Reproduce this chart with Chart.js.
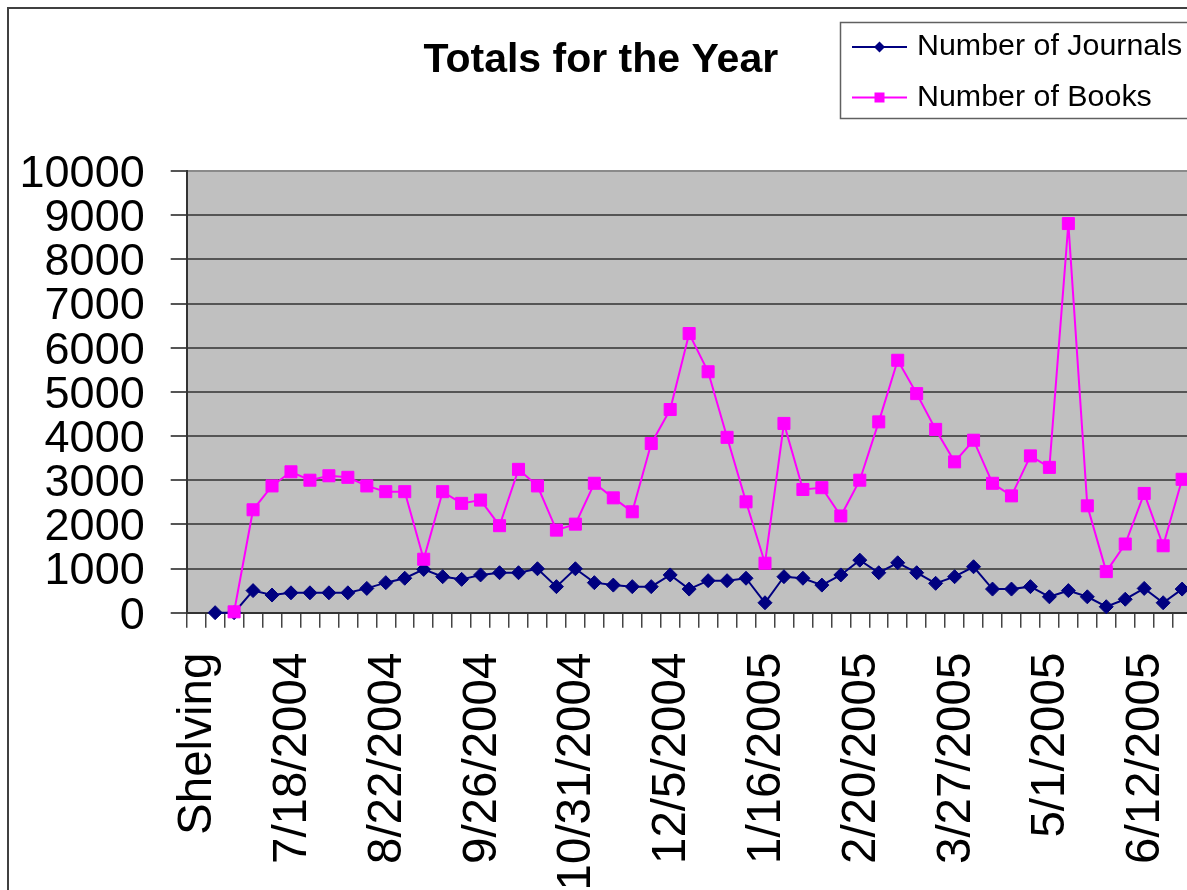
<!DOCTYPE html>
<html><head><meta charset="utf-8">
<script src="https://cdn.jsdelivr.net/npm/chart.js@4.4.1/dist/chart.umd.min.js"></script>
<style>
html,body{margin:0;padding:0;overflow:hidden;background:#fff;width:1187px;height:890px;}
#wrap{position:absolute;left:0;top:0;width:1202px;height:900px;}
canvas{display:block;}
</style></head><body>
<div id="wrap"><canvas id="c" width="1202" height="900"></canvas></div>
<script>
const chartTitle = 'Totals for the Year';
const seriesNames = ['Number of Journals', 'Number of Books'];
const categories = ['Shelving','6/20/2004','6/27/2004','7/4/2004','7/11/2004','7/18/2004','7/25/2004','8/1/2004','8/8/2004','8/15/2004',
  '8/22/2004','8/29/2004','9/5/2004','9/12/2004','9/19/2004','9/26/2004','10/3/2004','10/10/2004','10/17/2004','10/24/2004',
  '10/31/2004','11/7/2004','11/14/2004','11/21/2004','11/28/2004','12/5/2004','12/12/2004','12/19/2004','1/2/2005','1/9/2005',
  '1/16/2005','1/23/2005','1/30/2005','2/6/2005','2/13/2005','2/20/2005','2/27/2005','3/6/2005','3/13/2005','3/20/2005',
  '3/27/2005','4/3/2005','4/10/2005','4/17/2005','4/24/2005','5/1/2005','5/8/2005','5/15/2005','5/22/2005','6/5/2005',
  '6/12/2005','6/19/2005','6/26/2005'];
const journals = [null,0,0,500,400,450,450,450,450,550,
  680,780,980,815,755,855,905,905,995,590,
  995,680,625,590,590,855,535,725,725,780,
  225,815,780,625,855,1190,905,1130,905,665,
  815,1040,535,535,590,360,500,360,135,305,
  550,225,535];
const books = [null,null,20,2330,2870,3190,3000,3100,3065,2870,
  2740,2740,1210,2740,2475,2550,1970,3245,2870,1870,
  2005,2930,2600,2285,3830,4600,6320,5455,3970,2510,
  1120,4285,2790,2830,2190,3000,4320,5715,4960,4150,
  3415,3905,2930,2645,3550,3290,8810,2420,930,1555,
  2700,1515,3020];
const yMin = 0, yMax = 10000, yStep = 1000;
const labelEvery = 5;

const FONT = '"Liberation Sans", Arial, sans-serif';
const navy = '#000080', magenta = '#FF00FF';

const framePlugin = {
  id: 'frame',
  beforeDraw(chart) {
    const {ctx, chartArea: a, width, height} = chart;
    ctx.save();
    ctx.fillStyle = '#ffffff';
    ctx.fillRect(0, 0, width, height);
    ctx.fillStyle = '#c0c0c0';
    ctx.fillRect(a.left, a.top, a.right - a.left, a.bottom - a.top);
    ctx.strokeStyle = '#404040';
    ctx.lineWidth = 2;
    ctx.strokeRect(8, 8, 1186, 1000);
    ctx.restore();
  },
  afterDraw(chart) {
    const ctx = chart.ctx;
    ctx.save();
    ctx.strokeStyle = '#606060';
    ctx.lineWidth = 1.5;
    ctx.strokeRect(840.5, 22.5, 360, 96);
    const rows = [
      {name: seriesNames[0], color: navy, y: 47, style: 'diamond'},
      {name: seriesNames[1], color: magenta, y: 97.5, style: 'square'}
    ];
    rows.forEach(r => {
      ctx.strokeStyle = r.color;
      ctx.fillStyle = r.color;
      ctx.lineWidth = 2;
      ctx.beginPath();
      ctx.moveTo(852, r.y);
      ctx.lineTo(907, r.y);
      ctx.stroke();
      const cx = 879.5;
      ctx.beginPath();
      if (r.style === 'diamond') {
        ctx.moveTo(cx, r.y - 5.5); ctx.lineTo(cx + 5.5, r.y); ctx.lineTo(cx, r.y + 5.5); ctx.lineTo(cx - 5.5, r.y);
        ctx.closePath();
      } else {
        ctx.rect(cx - 5, r.y - 5, 10, 10);
      }
      ctx.fill();
      ctx.fillStyle = '#000';
      ctx.font = '30.4px ' + FONT;
      ctx.textBaseline = 'middle';
      ctx.textAlign = 'left';
      ctx.fillText(r.name, 917, r.y);
    });
    ctx.restore();
  }
};

new Chart(document.getElementById('c'), {
  type: 'line',
  data: {
    labels: categories,
    datasets: [
      {label: seriesNames[0], data: journals, borderColor: navy, backgroundColor: navy,
       borderWidth: 2, pointStyle: 'rectRot', pointRadius: 7, pointBorderWidth: 1,
       pointBackgroundColor: navy, pointBorderColor: navy, tension: 0, clip: false, order: 1},
      {label: seriesNames[1], data: books, borderColor: magenta, backgroundColor: magenta,
       borderWidth: 2, pointStyle: 'rect', pointRadius: 8.5, pointBorderWidth: 1,
       pointBackgroundColor: magenta, pointBorderColor: magenta, tension: 0, clip: false, order: 0}
    ]
  },
  options: {
    responsive: false,
    animation: false,
    devicePixelRatio: 1,
    layout: {padding: {left: 10, right: 10.4, top: 0, bottom: 0}},
    plugins: {
      legend: {display: false},
      tooltip: {enabled: false},
      title: {
        display: true, text: chartTitle, color: '#000',
        font: {family: FONT, size: 41, weight: 'bold', lineHeight: 1.2},
        padding: {top: 36.4, bottom: 85.4}
      }
    },
    scales: {
      x: {
        type: 'category',
        offset: true,
        afterFit(scale) { scale.height = 900 - 612.7; scale.paddingLeft = 0; scale.paddingRight = 0; },
        grid: {display: true, drawOnChartArea: false, offset: true, tickLength: 15, color: '#444', lineWidth: 1.5},
        border: {display: true, color: '#333', width: 2},
        ticks: {
          autoSkip: false, maxRotation: 90, minRotation: 90, padding: 25, labelOffset: 2,
          color: '#000', font: {family: FONT, size: 47.5},
          callback: (v, i) => (i % labelEvery === 0 ? categories[i] : '')
        }
      },
      y: {
        min: yMin, max: yMax,
        afterFit(scale) { scale.width = 176.7; },
        grid: {
          color: c => (c.tick && c.tick.value === yMax ? '#8a8a8a' : '#555'),
          tickColor: '#555', lineWidth: 2, tickLength: 16
        },
        border: {display: true, color: '#333', width: 2},
        ticks: {
          stepSize: yStep, autoSkip: false, padding: 26, labelOffset: 3.5, color: '#000',
          font: {family: FONT, size: 45, lineHeight: 1},
          callback: v => String(v)
        }
      }
    }
  },
  plugins: [framePlugin]
});
</script>
</body></html>
